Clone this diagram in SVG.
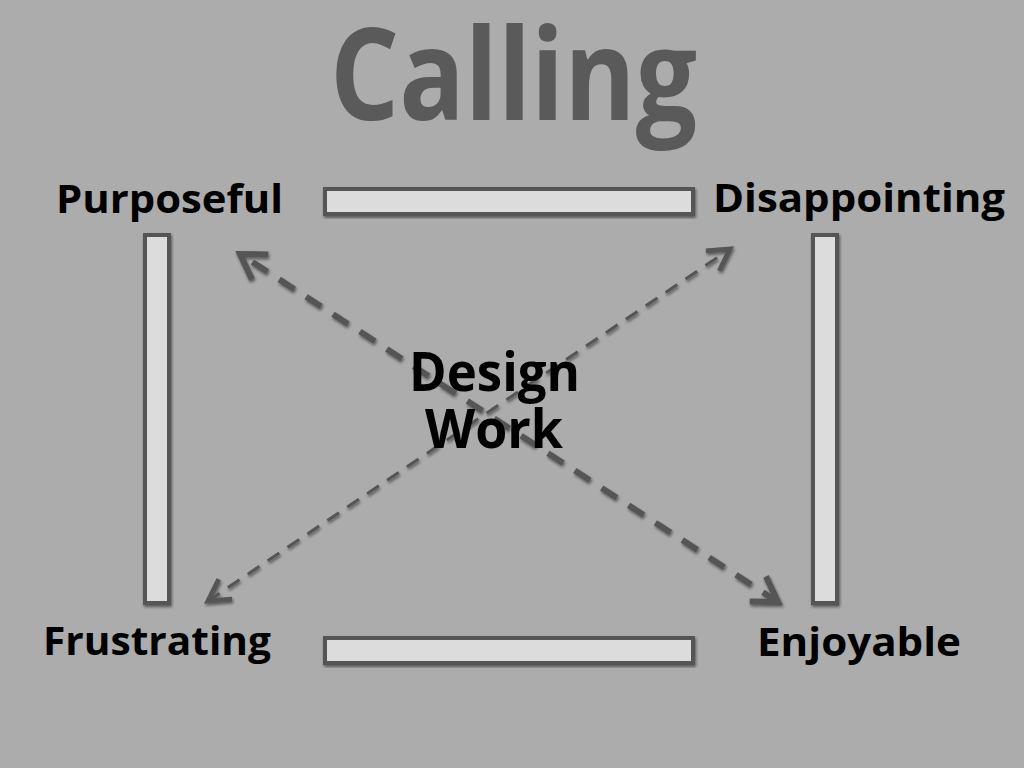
<svg xmlns="http://www.w3.org/2000/svg" width="1024" height="768" viewBox="0 0 1024 768">
<defs>
<filter id="sh" x="-20%" y="-20%" width="140%" height="140%"><feGaussianBlur in="SourceAlpha" stdDeviation="1.5"/><feOffset dx="1" dy="2"/><feComponentTransfer><feFuncA type="linear" slope="0.5"/></feComponentTransfer><feMerge><feMergeNode/><feMergeNode in="SourceGraphic"/></feMerge></filter>
<marker id="ahThick" markerWidth="6" markerHeight="6" refX="4.5" refY="3" orient="auto-start-reverse" markerUnits="strokeWidth"><path d="M0.5,0.5 L4.5,3 L0.5,5.5" fill="none" stroke="#555" stroke-width="1" stroke-linejoin="miter"/></marker>
<marker id="ahThin" markerWidth="10" markerHeight="10" refX="8" refY="5" orient="auto-start-reverse" markerUnits="strokeWidth"><path d="M1,1 L8,5 L1,9" fill="none" stroke="#555" stroke-width="1.6"/></marker>
</defs>
<style>
.bar{fill:#dcdcdc;stroke:#555;stroke-width:4}
.lbl{font-family:"Open Sans","Liberation Sans",sans-serif;font-weight:bold;fill:#000}
.thick{stroke:#555;stroke-width:6;stroke-dasharray:18 14;fill:none}
.thin{stroke:#555;stroke-width:3;stroke-dasharray:14 10;fill:none}
</style>
<rect width="1024" height="768" fill="#acacac"/>
<text x="330" y="120" font-family="'Open Sans','DejaVu Sans',sans-serif" font-size="128" font-weight="bold" fill="#5a5a5a" textLength="367" lengthAdjust="spacingAndGlyphs">Calling</text>
<g id="connectors" filter="url(#sh)">
<line class="thick" x1="778" y1="602" x2="240" y2="254" marker-start="url(#ahThick)" marker-end="url(#ahThick)"/>
<line class="thin" x1="208" y1="601" x2="730" y2="249" marker-start="url(#ahThin)" marker-end="url(#ahThin)"/>
</g>
<g id="bar-top" filter="url(#sh)"><rect class="bar" x="325" y="189" width="368" height="25"/></g>
<g id="bar-bottom" filter="url(#sh)"><rect class="bar" x="325" y="638" width="368" height="25"/></g>
<g id="bar-left" filter="url(#sh)"><rect class="bar" x="145" y="235" width="24" height="368"/></g>
<g id="bar-right" filter="url(#sh)"><rect class="bar" x="813" y="235" width="24" height="368"/></g>
<g id="purposeful"><text class="lbl" x="56" y="213" font-size="40" textLength="227" lengthAdjust="spacingAndGlyphs">Purposeful</text></g>
<g id="disappointing"><text class="lbl" x="713" y="212" font-size="40" textLength="292" lengthAdjust="spacingAndGlyphs">Disappointing</text></g>
<g id="frustrating"><text class="lbl" x="43" y="655" font-size="40" textLength="228" lengthAdjust="spacingAndGlyphs">Frustrating</text></g>
<g id="enjoyable"><text class="lbl" x="757" y="656" font-size="40" textLength="204" lengthAdjust="spacingAndGlyphs">Enjoyable</text></g>
<g id="design-work">
<text class="lbl" x="409" y="391" font-size="54" textLength="171" lengthAdjust="spacingAndGlyphs">Design</text>
<text class="lbl" x="425" y="448" font-size="54" textLength="138" lengthAdjust="spacingAndGlyphs">Work</text>
</g>
</svg>
